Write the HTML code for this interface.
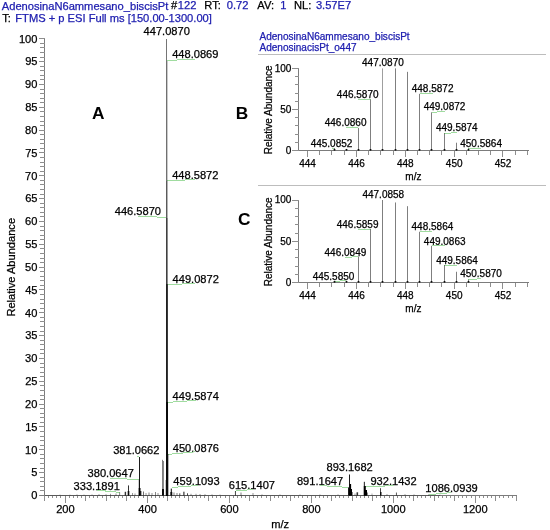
<!DOCTYPE html>
<html><head><meta charset="utf-8"><style>
html,body{margin:0;padding:0;background:#fff;}
svg{display:block;font-family:"Liberation Sans",sans-serif;will-change:transform;}
</style></head><body>
<svg width="550" height="530" viewBox="0 0 550 530" shape-rendering="crispEdges">
<rect width="550" height="530" fill="#fff"/>
<text x="1.75" y="9.50" font-size="11.15px" font-weight="normal" fill="#2020b0" stroke="#2020b0" stroke-width="0.25">AdenosinaN6ammesano_biscisPt</text>
<text x="170.95" y="9.30" font-size="11.15px" font-weight="normal" fill="#000" stroke="#000" stroke-width="0.25">#</text>
<text x="177.84" y="9.40" font-size="11.15px" font-weight="normal" fill="#2020b0" stroke="#2020b0" stroke-width="0.25">122</text>
<text x="204.29" y="9.30" font-size="11.15px" font-weight="normal" fill="#000" stroke="#000" stroke-width="0.25">RT:</text>
<text x="226.74" y="9.40" font-size="11.15px" font-weight="normal" fill="#2020b0" stroke="#2020b0" stroke-width="0.25">0.72</text>
<text x="257.35" y="9.30" font-size="11.15px" font-weight="normal" fill="#000" stroke="#000" stroke-width="0.25">AV:</text>
<text x="280.14" y="9.30" font-size="11.15px" font-weight="normal" fill="#2020b0" stroke="#2020b0" stroke-width="0.25">1</text>
<text x="294.09" y="9.30" font-size="11.15px" font-weight="normal" fill="#000" stroke="#000" stroke-width="0.25">NL:</text>
<text x="315.89" y="9.40" font-size="11.15px" font-weight="normal" fill="#2020b0" stroke="#2020b0" stroke-width="0.25">3.57E7</text>
<text x="2.15" y="21.70" font-size="11.15px" font-weight="normal" fill="#000" stroke="#000" stroke-width="0.25">T:</text>
<text x="15.29" y="21.90" font-size="11.15px" font-weight="normal" fill="#2020b0" stroke="#2020b0" stroke-width="0.25">FTMS + p ESI Full ms [150.00-1300.00]</text>
<line x1="44.50" y1="38.80" x2="44.50" y2="496.00" stroke="#7c7c7c" stroke-width="1" />
<line x1="38.50" y1="495.50" x2="44.50" y2="495.50" stroke="#8e8e8e" stroke-width="1" />
<text x="31.25" y="499.30" font-size="11.1px" font-weight="normal" fill="#000" stroke="#000" stroke-width="0.25">0</text>
<line x1="40.00" y1="490.50" x2="44.50" y2="490.50" stroke="#8e8e8e" stroke-width="1" />
<line x1="40.00" y1="486.50" x2="44.50" y2="486.50" stroke="#8e8e8e" stroke-width="1" />
<line x1="40.00" y1="481.50" x2="44.50" y2="481.50" stroke="#8e8e8e" stroke-width="1" />
<line x1="40.00" y1="477.50" x2="44.50" y2="477.50" stroke="#8e8e8e" stroke-width="1" />
<line x1="38.50" y1="472.50" x2="44.50" y2="472.50" stroke="#8e8e8e" stroke-width="1" />
<text x="31.30" y="476.46" font-size="11.1px" font-weight="normal" fill="#000" stroke="#000" stroke-width="0.25">5</text>
<line x1="40.00" y1="468.50" x2="44.50" y2="468.50" stroke="#8e8e8e" stroke-width="1" />
<line x1="40.00" y1="463.50" x2="44.50" y2="463.50" stroke="#8e8e8e" stroke-width="1" />
<line x1="40.00" y1="458.50" x2="44.50" y2="458.50" stroke="#8e8e8e" stroke-width="1" />
<line x1="40.00" y1="454.50" x2="44.50" y2="454.50" stroke="#8e8e8e" stroke-width="1" />
<line x1="38.50" y1="449.50" x2="44.50" y2="449.50" stroke="#8e8e8e" stroke-width="1" />
<text x="25.09" y="453.63" font-size="11.1px" font-weight="normal" fill="#000" stroke="#000" stroke-width="0.25">10</text>
<line x1="40.00" y1="445.50" x2="44.50" y2="445.50" stroke="#8e8e8e" stroke-width="1" />
<line x1="40.00" y1="440.50" x2="44.50" y2="440.50" stroke="#8e8e8e" stroke-width="1" />
<line x1="40.00" y1="436.50" x2="44.50" y2="436.50" stroke="#8e8e8e" stroke-width="1" />
<line x1="40.00" y1="431.50" x2="44.50" y2="431.50" stroke="#8e8e8e" stroke-width="1" />
<line x1="38.50" y1="426.50" x2="44.50" y2="426.50" stroke="#8e8e8e" stroke-width="1" />
<text x="25.14" y="430.79" font-size="11.1px" font-weight="normal" fill="#000" stroke="#000" stroke-width="0.25">15</text>
<line x1="40.00" y1="422.50" x2="44.50" y2="422.50" stroke="#8e8e8e" stroke-width="1" />
<line x1="40.00" y1="417.50" x2="44.50" y2="417.50" stroke="#8e8e8e" stroke-width="1" />
<line x1="40.00" y1="413.50" x2="44.50" y2="413.50" stroke="#8e8e8e" stroke-width="1" />
<line x1="40.00" y1="408.50" x2="44.50" y2="408.50" stroke="#8e8e8e" stroke-width="1" />
<line x1="38.50" y1="404.50" x2="44.50" y2="404.50" stroke="#8e8e8e" stroke-width="1" />
<text x="25.09" y="407.96" font-size="11.1px" font-weight="normal" fill="#000" stroke="#000" stroke-width="0.25">20</text>
<line x1="40.00" y1="399.50" x2="44.50" y2="399.50" stroke="#8e8e8e" stroke-width="1" />
<line x1="40.00" y1="395.50" x2="44.50" y2="395.50" stroke="#8e8e8e" stroke-width="1" />
<line x1="40.00" y1="390.50" x2="44.50" y2="390.50" stroke="#8e8e8e" stroke-width="1" />
<line x1="40.00" y1="385.50" x2="44.50" y2="385.50" stroke="#8e8e8e" stroke-width="1" />
<line x1="38.50" y1="381.50" x2="44.50" y2="381.50" stroke="#8e8e8e" stroke-width="1" />
<text x="25.14" y="385.12" font-size="11.1px" font-weight="normal" fill="#000" stroke="#000" stroke-width="0.25">25</text>
<line x1="40.00" y1="376.50" x2="44.50" y2="376.50" stroke="#8e8e8e" stroke-width="1" />
<line x1="40.00" y1="372.50" x2="44.50" y2="372.50" stroke="#8e8e8e" stroke-width="1" />
<line x1="40.00" y1="367.50" x2="44.50" y2="367.50" stroke="#8e8e8e" stroke-width="1" />
<line x1="40.00" y1="363.50" x2="44.50" y2="363.50" stroke="#8e8e8e" stroke-width="1" />
<line x1="38.50" y1="358.50" x2="44.50" y2="358.50" stroke="#8e8e8e" stroke-width="1" />
<text x="25.09" y="362.29" font-size="11.1px" font-weight="normal" fill="#000" stroke="#000" stroke-width="0.25">30</text>
<line x1="40.00" y1="353.50" x2="44.50" y2="353.50" stroke="#8e8e8e" stroke-width="1" />
<line x1="40.00" y1="349.50" x2="44.50" y2="349.50" stroke="#8e8e8e" stroke-width="1" />
<line x1="40.00" y1="344.50" x2="44.50" y2="344.50" stroke="#8e8e8e" stroke-width="1" />
<line x1="40.00" y1="340.50" x2="44.50" y2="340.50" stroke="#8e8e8e" stroke-width="1" />
<line x1="38.50" y1="335.50" x2="44.50" y2="335.50" stroke="#8e8e8e" stroke-width="1" />
<text x="25.14" y="339.45" font-size="11.1px" font-weight="normal" fill="#000" stroke="#000" stroke-width="0.25">35</text>
<line x1="40.00" y1="331.50" x2="44.50" y2="331.50" stroke="#8e8e8e" stroke-width="1" />
<line x1="40.00" y1="326.50" x2="44.50" y2="326.50" stroke="#8e8e8e" stroke-width="1" />
<line x1="40.00" y1="321.50" x2="44.50" y2="321.50" stroke="#8e8e8e" stroke-width="1" />
<line x1="40.00" y1="317.50" x2="44.50" y2="317.50" stroke="#8e8e8e" stroke-width="1" />
<line x1="38.50" y1="312.50" x2="44.50" y2="312.50" stroke="#8e8e8e" stroke-width="1" />
<text x="25.09" y="316.62" font-size="11.1px" font-weight="normal" fill="#000" stroke="#000" stroke-width="0.25">40</text>
<line x1="40.00" y1="308.50" x2="44.50" y2="308.50" stroke="#8e8e8e" stroke-width="1" />
<line x1="40.00" y1="303.50" x2="44.50" y2="303.50" stroke="#8e8e8e" stroke-width="1" />
<line x1="40.00" y1="299.50" x2="44.50" y2="299.50" stroke="#8e8e8e" stroke-width="1" />
<line x1="40.00" y1="294.50" x2="44.50" y2="294.50" stroke="#8e8e8e" stroke-width="1" />
<line x1="38.50" y1="289.50" x2="44.50" y2="289.50" stroke="#8e8e8e" stroke-width="1" />
<text x="25.14" y="293.78" font-size="11.1px" font-weight="normal" fill="#000" stroke="#000" stroke-width="0.25">45</text>
<line x1="40.00" y1="285.50" x2="44.50" y2="285.50" stroke="#8e8e8e" stroke-width="1" />
<line x1="40.00" y1="280.50" x2="44.50" y2="280.50" stroke="#8e8e8e" stroke-width="1" />
<line x1="40.00" y1="276.50" x2="44.50" y2="276.50" stroke="#8e8e8e" stroke-width="1" />
<line x1="40.00" y1="271.50" x2="44.50" y2="271.50" stroke="#8e8e8e" stroke-width="1" />
<line x1="38.50" y1="267.50" x2="44.50" y2="267.50" stroke="#8e8e8e" stroke-width="1" />
<text x="25.09" y="270.95" font-size="11.1px" font-weight="normal" fill="#000" stroke="#000" stroke-width="0.25">50</text>
<line x1="40.00" y1="262.50" x2="44.50" y2="262.50" stroke="#8e8e8e" stroke-width="1" />
<line x1="40.00" y1="258.50" x2="44.50" y2="258.50" stroke="#8e8e8e" stroke-width="1" />
<line x1="40.00" y1="253.50" x2="44.50" y2="253.50" stroke="#8e8e8e" stroke-width="1" />
<line x1="40.00" y1="248.50" x2="44.50" y2="248.50" stroke="#8e8e8e" stroke-width="1" />
<line x1="38.50" y1="244.50" x2="44.50" y2="244.50" stroke="#8e8e8e" stroke-width="1" />
<text x="25.14" y="248.11" font-size="11.1px" font-weight="normal" fill="#000" stroke="#000" stroke-width="0.25">55</text>
<line x1="40.00" y1="239.50" x2="44.50" y2="239.50" stroke="#8e8e8e" stroke-width="1" />
<line x1="40.00" y1="235.50" x2="44.50" y2="235.50" stroke="#8e8e8e" stroke-width="1" />
<line x1="40.00" y1="230.50" x2="44.50" y2="230.50" stroke="#8e8e8e" stroke-width="1" />
<line x1="40.00" y1="226.50" x2="44.50" y2="226.50" stroke="#8e8e8e" stroke-width="1" />
<line x1="38.50" y1="221.50" x2="44.50" y2="221.50" stroke="#8e8e8e" stroke-width="1" />
<text x="25.09" y="225.28" font-size="11.1px" font-weight="normal" fill="#000" stroke="#000" stroke-width="0.25">60</text>
<line x1="40.00" y1="216.50" x2="44.50" y2="216.50" stroke="#8e8e8e" stroke-width="1" />
<line x1="40.00" y1="212.50" x2="44.50" y2="212.50" stroke="#8e8e8e" stroke-width="1" />
<line x1="40.00" y1="207.50" x2="44.50" y2="207.50" stroke="#8e8e8e" stroke-width="1" />
<line x1="40.00" y1="203.50" x2="44.50" y2="203.50" stroke="#8e8e8e" stroke-width="1" />
<line x1="38.50" y1="198.50" x2="44.50" y2="198.50" stroke="#8e8e8e" stroke-width="1" />
<text x="25.14" y="202.44" font-size="11.1px" font-weight="normal" fill="#000" stroke="#000" stroke-width="0.25">65</text>
<line x1="40.00" y1="194.50" x2="44.50" y2="194.50" stroke="#8e8e8e" stroke-width="1" />
<line x1="40.00" y1="189.50" x2="44.50" y2="189.50" stroke="#8e8e8e" stroke-width="1" />
<line x1="40.00" y1="184.50" x2="44.50" y2="184.50" stroke="#8e8e8e" stroke-width="1" />
<line x1="40.00" y1="180.50" x2="44.50" y2="180.50" stroke="#8e8e8e" stroke-width="1" />
<line x1="38.50" y1="175.50" x2="44.50" y2="175.50" stroke="#8e8e8e" stroke-width="1" />
<text x="25.09" y="179.61" font-size="11.1px" font-weight="normal" fill="#000" stroke="#000" stroke-width="0.25">70</text>
<line x1="40.00" y1="171.50" x2="44.50" y2="171.50" stroke="#8e8e8e" stroke-width="1" />
<line x1="40.00" y1="166.50" x2="44.50" y2="166.50" stroke="#8e8e8e" stroke-width="1" />
<line x1="40.00" y1="162.50" x2="44.50" y2="162.50" stroke="#8e8e8e" stroke-width="1" />
<line x1="40.00" y1="157.50" x2="44.50" y2="157.50" stroke="#8e8e8e" stroke-width="1" />
<line x1="38.50" y1="152.50" x2="44.50" y2="152.50" stroke="#8e8e8e" stroke-width="1" />
<text x="25.14" y="156.77" font-size="11.1px" font-weight="normal" fill="#000" stroke="#000" stroke-width="0.25">75</text>
<line x1="40.00" y1="148.50" x2="44.50" y2="148.50" stroke="#8e8e8e" stroke-width="1" />
<line x1="40.00" y1="143.50" x2="44.50" y2="143.50" stroke="#8e8e8e" stroke-width="1" />
<line x1="40.00" y1="139.50" x2="44.50" y2="139.50" stroke="#8e8e8e" stroke-width="1" />
<line x1="40.00" y1="134.50" x2="44.50" y2="134.50" stroke="#8e8e8e" stroke-width="1" />
<line x1="38.50" y1="130.50" x2="44.50" y2="130.50" stroke="#8e8e8e" stroke-width="1" />
<text x="25.09" y="133.94" font-size="11.1px" font-weight="normal" fill="#000" stroke="#000" stroke-width="0.25">80</text>
<line x1="40.00" y1="125.50" x2="44.50" y2="125.50" stroke="#8e8e8e" stroke-width="1" />
<line x1="40.00" y1="121.50" x2="44.50" y2="121.50" stroke="#8e8e8e" stroke-width="1" />
<line x1="40.00" y1="116.50" x2="44.50" y2="116.50" stroke="#8e8e8e" stroke-width="1" />
<line x1="40.00" y1="111.50" x2="44.50" y2="111.50" stroke="#8e8e8e" stroke-width="1" />
<line x1="38.50" y1="107.50" x2="44.50" y2="107.50" stroke="#8e8e8e" stroke-width="1" />
<text x="25.14" y="111.10" font-size="11.1px" font-weight="normal" fill="#000" stroke="#000" stroke-width="0.25">85</text>
<line x1="40.00" y1="102.50" x2="44.50" y2="102.50" stroke="#8e8e8e" stroke-width="1" />
<line x1="40.00" y1="98.50" x2="44.50" y2="98.50" stroke="#8e8e8e" stroke-width="1" />
<line x1="40.00" y1="93.50" x2="44.50" y2="93.50" stroke="#8e8e8e" stroke-width="1" />
<line x1="40.00" y1="89.50" x2="44.50" y2="89.50" stroke="#8e8e8e" stroke-width="1" />
<line x1="38.50" y1="84.50" x2="44.50" y2="84.50" stroke="#8e8e8e" stroke-width="1" />
<text x="25.09" y="88.27" font-size="11.1px" font-weight="normal" fill="#000" stroke="#000" stroke-width="0.25">90</text>
<line x1="40.00" y1="79.50" x2="44.50" y2="79.50" stroke="#8e8e8e" stroke-width="1" />
<line x1="40.00" y1="75.50" x2="44.50" y2="75.50" stroke="#8e8e8e" stroke-width="1" />
<line x1="40.00" y1="70.50" x2="44.50" y2="70.50" stroke="#8e8e8e" stroke-width="1" />
<line x1="40.00" y1="66.50" x2="44.50" y2="66.50" stroke="#8e8e8e" stroke-width="1" />
<line x1="38.50" y1="61.50" x2="44.50" y2="61.50" stroke="#8e8e8e" stroke-width="1" />
<text x="25.14" y="65.43" font-size="11.1px" font-weight="normal" fill="#000" stroke="#000" stroke-width="0.25">95</text>
<line x1="40.00" y1="57.50" x2="44.50" y2="57.50" stroke="#8e8e8e" stroke-width="1" />
<line x1="40.00" y1="52.50" x2="44.50" y2="52.50" stroke="#8e8e8e" stroke-width="1" />
<line x1="40.00" y1="47.50" x2="44.50" y2="47.50" stroke="#8e8e8e" stroke-width="1" />
<line x1="40.00" y1="43.50" x2="44.50" y2="43.50" stroke="#8e8e8e" stroke-width="1" />
<line x1="38.50" y1="38.50" x2="44.50" y2="38.50" stroke="#8e8e8e" stroke-width="1" />
<text x="18.89" y="42.60" font-size="11.1px" font-weight="normal" fill="#000" stroke="#000" stroke-width="0.25">100</text>
<line x1="40.00" y1="495.50" x2="517.00" y2="495.50" stroke="#7c7c7c" stroke-width="1" />
<line x1="45.00" y1="495.50" x2="440.00" y2="495.50" stroke="#5a5a5a" stroke-width="1" />
<line x1="44.50" y1="496.00" x2="44.50" y2="500.50" stroke="#8e8e8e" stroke-width="1" />
<line x1="48.50" y1="496.00" x2="48.50" y2="498.00" stroke="#8e8e8e" stroke-width="1" />
<line x1="52.50" y1="496.00" x2="52.50" y2="498.00" stroke="#8e8e8e" stroke-width="1" />
<line x1="56.50" y1="496.00" x2="56.50" y2="498.00" stroke="#8e8e8e" stroke-width="1" />
<line x1="60.50" y1="496.00" x2="60.50" y2="498.00" stroke="#8e8e8e" stroke-width="1" />
<line x1="65.50" y1="496.00" x2="65.50" y2="502.50" stroke="#8e8e8e" stroke-width="1" />
<text x="56.17" y="512.80" font-size="11.1px" font-weight="normal" fill="#000" stroke="#000" stroke-width="0.25">200</text>
<line x1="69.50" y1="496.00" x2="69.50" y2="498.00" stroke="#8e8e8e" stroke-width="1" />
<line x1="73.50" y1="496.00" x2="73.50" y2="498.00" stroke="#8e8e8e" stroke-width="1" />
<line x1="77.50" y1="496.00" x2="77.50" y2="498.00" stroke="#8e8e8e" stroke-width="1" />
<line x1="81.50" y1="496.00" x2="81.50" y2="498.00" stroke="#8e8e8e" stroke-width="1" />
<line x1="85.50" y1="496.00" x2="85.50" y2="500.50" stroke="#8e8e8e" stroke-width="1" />
<line x1="89.50" y1="496.00" x2="89.50" y2="498.00" stroke="#8e8e8e" stroke-width="1" />
<line x1="93.50" y1="496.00" x2="93.50" y2="498.00" stroke="#8e8e8e" stroke-width="1" />
<line x1="97.50" y1="496.00" x2="97.50" y2="498.00" stroke="#8e8e8e" stroke-width="1" />
<line x1="102.50" y1="496.00" x2="102.50" y2="498.00" stroke="#8e8e8e" stroke-width="1" />
<line x1="106.50" y1="496.00" x2="106.50" y2="500.50" stroke="#8e8e8e" stroke-width="1" />
<line x1="110.50" y1="496.00" x2="110.50" y2="498.00" stroke="#8e8e8e" stroke-width="1" />
<line x1="114.50" y1="496.00" x2="114.50" y2="498.00" stroke="#8e8e8e" stroke-width="1" />
<line x1="118.50" y1="496.00" x2="118.50" y2="498.00" stroke="#8e8e8e" stroke-width="1" />
<line x1="122.50" y1="496.00" x2="122.50" y2="498.00" stroke="#8e8e8e" stroke-width="1" />
<line x1="126.50" y1="496.00" x2="126.50" y2="500.50" stroke="#8e8e8e" stroke-width="1" />
<line x1="130.50" y1="496.00" x2="130.50" y2="498.00" stroke="#8e8e8e" stroke-width="1" />
<line x1="134.50" y1="496.00" x2="134.50" y2="498.00" stroke="#8e8e8e" stroke-width="1" />
<line x1="138.50" y1="496.00" x2="138.50" y2="498.00" stroke="#8e8e8e" stroke-width="1" />
<line x1="143.50" y1="496.00" x2="143.50" y2="498.00" stroke="#8e8e8e" stroke-width="1" />
<line x1="147.50" y1="496.00" x2="147.50" y2="502.50" stroke="#8e8e8e" stroke-width="1" />
<text x="138.32" y="512.80" font-size="11.1px" font-weight="normal" fill="#000" stroke="#000" stroke-width="0.25">400</text>
<line x1="151.50" y1="496.00" x2="151.50" y2="498.00" stroke="#8e8e8e" stroke-width="1" />
<line x1="155.50" y1="496.00" x2="155.50" y2="498.00" stroke="#8e8e8e" stroke-width="1" />
<line x1="159.50" y1="496.00" x2="159.50" y2="498.00" stroke="#8e8e8e" stroke-width="1" />
<line x1="163.50" y1="496.00" x2="163.50" y2="498.00" stroke="#8e8e8e" stroke-width="1" />
<line x1="167.50" y1="496.00" x2="167.50" y2="500.50" stroke="#8e8e8e" stroke-width="1" />
<line x1="171.50" y1="496.00" x2="171.50" y2="498.00" stroke="#8e8e8e" stroke-width="1" />
<line x1="175.50" y1="496.00" x2="175.50" y2="498.00" stroke="#8e8e8e" stroke-width="1" />
<line x1="179.50" y1="496.00" x2="179.50" y2="498.00" stroke="#8e8e8e" stroke-width="1" />
<line x1="184.50" y1="496.00" x2="184.50" y2="498.00" stroke="#8e8e8e" stroke-width="1" />
<line x1="188.50" y1="496.00" x2="188.50" y2="500.50" stroke="#8e8e8e" stroke-width="1" />
<line x1="192.50" y1="496.00" x2="192.50" y2="498.00" stroke="#8e8e8e" stroke-width="1" />
<line x1="196.50" y1="496.00" x2="196.50" y2="498.00" stroke="#8e8e8e" stroke-width="1" />
<line x1="200.50" y1="496.00" x2="200.50" y2="498.00" stroke="#8e8e8e" stroke-width="1" />
<line x1="204.50" y1="496.00" x2="204.50" y2="498.00" stroke="#8e8e8e" stroke-width="1" />
<line x1="208.50" y1="496.00" x2="208.50" y2="500.50" stroke="#8e8e8e" stroke-width="1" />
<line x1="212.50" y1="496.00" x2="212.50" y2="498.00" stroke="#8e8e8e" stroke-width="1" />
<line x1="216.50" y1="496.00" x2="216.50" y2="498.00" stroke="#8e8e8e" stroke-width="1" />
<line x1="220.50" y1="496.00" x2="220.50" y2="498.00" stroke="#8e8e8e" stroke-width="1" />
<line x1="225.50" y1="496.00" x2="225.50" y2="498.00" stroke="#8e8e8e" stroke-width="1" />
<line x1="229.50" y1="496.00" x2="229.50" y2="502.50" stroke="#8e8e8e" stroke-width="1" />
<text x="220.17" y="512.80" font-size="11.1px" font-weight="normal" fill="#000" stroke="#000" stroke-width="0.25">600</text>
<line x1="233.50" y1="496.00" x2="233.50" y2="498.00" stroke="#8e8e8e" stroke-width="1" />
<line x1="237.50" y1="496.00" x2="237.50" y2="498.00" stroke="#8e8e8e" stroke-width="1" />
<line x1="241.50" y1="496.00" x2="241.50" y2="498.00" stroke="#8e8e8e" stroke-width="1" />
<line x1="245.50" y1="496.00" x2="245.50" y2="498.00" stroke="#8e8e8e" stroke-width="1" />
<line x1="249.50" y1="496.00" x2="249.50" y2="500.50" stroke="#8e8e8e" stroke-width="1" />
<line x1="253.50" y1="496.00" x2="253.50" y2="498.00" stroke="#8e8e8e" stroke-width="1" />
<line x1="257.50" y1="496.00" x2="257.50" y2="498.00" stroke="#8e8e8e" stroke-width="1" />
<line x1="261.50" y1="496.00" x2="261.50" y2="498.00" stroke="#8e8e8e" stroke-width="1" />
<line x1="266.50" y1="496.00" x2="266.50" y2="498.00" stroke="#8e8e8e" stroke-width="1" />
<line x1="270.50" y1="496.00" x2="270.50" y2="500.50" stroke="#8e8e8e" stroke-width="1" />
<line x1="274.50" y1="496.00" x2="274.50" y2="498.00" stroke="#8e8e8e" stroke-width="1" />
<line x1="278.50" y1="496.00" x2="278.50" y2="498.00" stroke="#8e8e8e" stroke-width="1" />
<line x1="282.50" y1="496.00" x2="282.50" y2="498.00" stroke="#8e8e8e" stroke-width="1" />
<line x1="286.50" y1="496.00" x2="286.50" y2="498.00" stroke="#8e8e8e" stroke-width="1" />
<line x1="290.50" y1="496.00" x2="290.50" y2="500.50" stroke="#8e8e8e" stroke-width="1" />
<line x1="294.50" y1="496.00" x2="294.50" y2="498.00" stroke="#8e8e8e" stroke-width="1" />
<line x1="298.50" y1="496.00" x2="298.50" y2="498.00" stroke="#8e8e8e" stroke-width="1" />
<line x1="302.50" y1="496.00" x2="302.50" y2="498.00" stroke="#8e8e8e" stroke-width="1" />
<line x1="307.50" y1="496.00" x2="307.50" y2="498.00" stroke="#8e8e8e" stroke-width="1" />
<line x1="311.50" y1="496.00" x2="311.50" y2="502.50" stroke="#8e8e8e" stroke-width="1" />
<text x="302.19" y="512.80" font-size="11.1px" font-weight="normal" fill="#000" stroke="#000" stroke-width="0.25">800</text>
<line x1="315.50" y1="496.00" x2="315.50" y2="498.00" stroke="#8e8e8e" stroke-width="1" />
<line x1="319.50" y1="496.00" x2="319.50" y2="498.00" stroke="#8e8e8e" stroke-width="1" />
<line x1="323.50" y1="496.00" x2="323.50" y2="498.00" stroke="#8e8e8e" stroke-width="1" />
<line x1="327.50" y1="496.00" x2="327.50" y2="498.00" stroke="#8e8e8e" stroke-width="1" />
<line x1="331.50" y1="496.00" x2="331.50" y2="500.50" stroke="#8e8e8e" stroke-width="1" />
<line x1="335.50" y1="496.00" x2="335.50" y2="498.00" stroke="#8e8e8e" stroke-width="1" />
<line x1="339.50" y1="496.00" x2="339.50" y2="498.00" stroke="#8e8e8e" stroke-width="1" />
<line x1="343.50" y1="496.00" x2="343.50" y2="498.00" stroke="#8e8e8e" stroke-width="1" />
<line x1="348.50" y1="496.00" x2="348.50" y2="498.00" stroke="#8e8e8e" stroke-width="1" />
<line x1="352.50" y1="496.00" x2="352.50" y2="500.50" stroke="#8e8e8e" stroke-width="1" />
<line x1="356.50" y1="496.00" x2="356.50" y2="498.00" stroke="#8e8e8e" stroke-width="1" />
<line x1="360.50" y1="496.00" x2="360.50" y2="498.00" stroke="#8e8e8e" stroke-width="1" />
<line x1="364.50" y1="496.00" x2="364.50" y2="498.00" stroke="#8e8e8e" stroke-width="1" />
<line x1="368.50" y1="496.00" x2="368.50" y2="498.00" stroke="#8e8e8e" stroke-width="1" />
<line x1="372.50" y1="496.00" x2="372.50" y2="500.50" stroke="#8e8e8e" stroke-width="1" />
<line x1="376.50" y1="496.00" x2="376.50" y2="498.00" stroke="#8e8e8e" stroke-width="1" />
<line x1="380.50" y1="496.00" x2="380.50" y2="498.00" stroke="#8e8e8e" stroke-width="1" />
<line x1="384.50" y1="496.00" x2="384.50" y2="498.00" stroke="#8e8e8e" stroke-width="1" />
<line x1="389.50" y1="496.00" x2="389.50" y2="498.00" stroke="#8e8e8e" stroke-width="1" />
<line x1="393.50" y1="496.00" x2="393.50" y2="502.50" stroke="#8e8e8e" stroke-width="1" />
<text x="380.94" y="512.80" font-size="11.1px" font-weight="normal" fill="#000" stroke="#000" stroke-width="0.25">1000</text>
<line x1="397.50" y1="496.00" x2="397.50" y2="498.00" stroke="#8e8e8e" stroke-width="1" />
<line x1="401.50" y1="496.00" x2="401.50" y2="498.00" stroke="#8e8e8e" stroke-width="1" />
<line x1="405.50" y1="496.00" x2="405.50" y2="498.00" stroke="#8e8e8e" stroke-width="1" />
<line x1="409.50" y1="496.00" x2="409.50" y2="498.00" stroke="#8e8e8e" stroke-width="1" />
<line x1="413.50" y1="496.00" x2="413.50" y2="500.50" stroke="#8e8e8e" stroke-width="1" />
<line x1="417.50" y1="496.00" x2="417.50" y2="498.00" stroke="#8e8e8e" stroke-width="1" />
<line x1="421.50" y1="496.00" x2="421.50" y2="498.00" stroke="#8e8e8e" stroke-width="1" />
<line x1="425.50" y1="496.00" x2="425.50" y2="498.00" stroke="#8e8e8e" stroke-width="1" />
<line x1="430.50" y1="496.00" x2="430.50" y2="498.00" stroke="#8e8e8e" stroke-width="1" />
<line x1="434.50" y1="496.00" x2="434.50" y2="500.50" stroke="#8e8e8e" stroke-width="1" />
<line x1="438.50" y1="496.00" x2="438.50" y2="498.00" stroke="#8e8e8e" stroke-width="1" />
<line x1="442.50" y1="496.00" x2="442.50" y2="498.00" stroke="#8e8e8e" stroke-width="1" />
<line x1="446.50" y1="496.00" x2="446.50" y2="498.00" stroke="#8e8e8e" stroke-width="1" />
<line x1="450.50" y1="496.00" x2="450.50" y2="498.00" stroke="#8e8e8e" stroke-width="1" />
<line x1="454.50" y1="496.00" x2="454.50" y2="500.50" stroke="#8e8e8e" stroke-width="1" />
<line x1="458.50" y1="496.00" x2="458.50" y2="498.00" stroke="#8e8e8e" stroke-width="1" />
<line x1="462.50" y1="496.00" x2="462.50" y2="498.00" stroke="#8e8e8e" stroke-width="1" />
<line x1="466.50" y1="496.00" x2="466.50" y2="498.00" stroke="#8e8e8e" stroke-width="1" />
<line x1="471.50" y1="496.00" x2="471.50" y2="498.00" stroke="#8e8e8e" stroke-width="1" />
<line x1="475.50" y1="496.00" x2="475.50" y2="502.50" stroke="#8e8e8e" stroke-width="1" />
<text x="462.94" y="512.80" font-size="11.1px" font-weight="normal" fill="#000" stroke="#000" stroke-width="0.25">1200</text>
<line x1="479.50" y1="496.00" x2="479.50" y2="498.00" stroke="#8e8e8e" stroke-width="1" />
<line x1="483.50" y1="496.00" x2="483.50" y2="498.00" stroke="#8e8e8e" stroke-width="1" />
<line x1="487.50" y1="496.00" x2="487.50" y2="498.00" stroke="#8e8e8e" stroke-width="1" />
<line x1="491.50" y1="496.00" x2="491.50" y2="498.00" stroke="#8e8e8e" stroke-width="1" />
<line x1="495.50" y1="496.00" x2="495.50" y2="500.50" stroke="#8e8e8e" stroke-width="1" />
<line x1="499.50" y1="496.00" x2="499.50" y2="498.00" stroke="#8e8e8e" stroke-width="1" />
<line x1="503.50" y1="496.00" x2="503.50" y2="498.00" stroke="#8e8e8e" stroke-width="1" />
<line x1="508.50" y1="496.00" x2="508.50" y2="498.00" stroke="#8e8e8e" stroke-width="1" />
<line x1="512.50" y1="496.00" x2="512.50" y2="498.00" stroke="#8e8e8e" stroke-width="1" />
<line x1="516.50" y1="496.00" x2="516.50" y2="500.50" stroke="#8e8e8e" stroke-width="1" />
<text transform="translate(15,316.6) rotate(-90)" x="0" y="0" font-size="11.1px" stroke="#000" stroke-width="0.25">Relative Abundance</text>
<text x="271.24" y="527.60" font-size="11.1px" font-weight="normal" fill="#000" stroke="#000" stroke-width="0.25">m/z</text>
<text x="92.04" y="118.80" font-size="17.3px" font-weight="bold" fill="#000">A</text>
<text x="143.55" y="35.40" font-size="11.1px" font-weight="normal" fill="#000" stroke="#000" stroke-width="0.25">447.0870</text>
<text x="172.15" y="58.10" font-size="11.1px" font-weight="normal" fill="#000" stroke="#000" stroke-width="0.25">448.0869</text>
<line x1="166.80" y1="60.60" x2="195.20" y2="59.00" stroke="#a0dca0" stroke-width="1"/>
<text x="172.15" y="179.10" font-size="11.1px" font-weight="normal" fill="#000" stroke="#000" stroke-width="0.25">448.5872</text>
<line x1="167.50" y1="181.00" x2="195.50" y2="179.40" stroke="#a0dca0" stroke-width="1"/>
<text x="114.75" y="215.00" font-size="11.1px" font-weight="normal" fill="#000" stroke="#000" stroke-width="0.25">446.5870</text>
<line x1="138.10" y1="216.00" x2="166.50" y2="217.50" stroke="#a0dca0" stroke-width="1"/>
<text x="172.55" y="282.70" font-size="11.1px" font-weight="normal" fill="#000" stroke="#000" stroke-width="0.25">449.0872</text>
<line x1="168.00" y1="285.00" x2="195.50" y2="283.00" stroke="#a0dca0" stroke-width="1"/>
<text x="172.55" y="399.90" font-size="11.1px" font-weight="normal" fill="#000" stroke="#000" stroke-width="0.25">449.5874</text>
<line x1="167.70" y1="402.40" x2="195.50" y2="400.40" stroke="#a0dca0" stroke-width="1"/>
<text x="172.75" y="451.70" font-size="11.1px" font-weight="normal" fill="#000" stroke="#000" stroke-width="0.25">450.0876</text>
<line x1="168.30" y1="454.40" x2="195.50" y2="451.80" stroke="#a0dca0" stroke-width="1"/>
<text x="113.20" y="454.30" font-size="11.1px" font-weight="normal" fill="#000" stroke="#000" stroke-width="0.25">381.0662</text>
<line x1="136.50" y1="455.60" x2="139.20" y2="457.00" stroke="#a0dca0" stroke-width="1"/>
<text x="87.60" y="477.30" font-size="11.1px" font-weight="normal" fill="#000" stroke="#000" stroke-width="0.25">380.0647</text>
<line x1="110.50" y1="478.20" x2="139.00" y2="479.60" stroke="#a0dca0" stroke-width="1"/>
<text x="73.60" y="489.50" font-size="11.1px" font-weight="normal" fill="#000" stroke="#000" stroke-width="0.25">333.1891</text>
<line x1="97.00" y1="490.20" x2="120.00" y2="492.40" stroke="#a0dca0" stroke-width="1"/>
<text x="173.35" y="485.30" font-size="11.1px" font-weight="normal" fill="#000" stroke="#000" stroke-width="0.25">459.1093</text>
<line x1="171.80" y1="487.50" x2="197.80" y2="485.50" stroke="#a0dca0" stroke-width="1"/>
<text x="228.75" y="488.90" font-size="11.1px" font-weight="normal" fill="#000" stroke="#000" stroke-width="0.25">615.1407</text>
<line x1="235.40" y1="491.10" x2="252.90" y2="489.50" stroke="#a0dca0" stroke-width="1"/>
<text x="326.50" y="471.10" font-size="11.1px" font-weight="normal" fill="#000" stroke="#000" stroke-width="0.25">893.1682</text>
<text x="296.90" y="484.80" font-size="11.1px" font-weight="normal" fill="#000" stroke="#000" stroke-width="0.25">891.1647</text>
<line x1="320.20" y1="485.60" x2="348.50" y2="487.40" stroke="#a0dca0" stroke-width="1"/>
<text x="370.40" y="484.80" font-size="11.1px" font-weight="normal" fill="#000" stroke="#000" stroke-width="0.25">932.1432</text>
<line x1="364.80" y1="487.00" x2="393.80" y2="485.60" stroke="#a0dca0" stroke-width="1"/>
<text x="425.34" y="491.90" font-size="11.1px" font-weight="normal" fill="#000" stroke="#000" stroke-width="0.25">1086.0939</text>
<line x1="429.00" y1="494.60" x2="451.00" y2="492.70" stroke="#a0dca0" stroke-width="1"/>
<line x1="257.50" y1="54.50" x2="546.00" y2="54.50" stroke="#bdbdbd" stroke-width="1" />
<text x="259.45" y="39.80" font-size="10.05px" font-weight="normal" fill="#2020b0" stroke="#2020b0" stroke-width="0.25">AdenosinaN6ammesano_biscisPt</text>
<text x="259.45" y="51.10" font-size="10.05px" font-weight="normal" fill="#2020b0" stroke="#2020b0" stroke-width="0.25">AdenosinacisPt_o447</text>
<line x1="298.50" y1="68.40" x2="298.50" y2="150.50" stroke="#7c7c7c" stroke-width="1" />
<line x1="291.50" y1="150.50" x2="298.50" y2="150.50" stroke="#8e8e8e" stroke-width="1" />
<text x="285.75" y="153.80" font-size="10.0px" font-weight="normal" fill="#000" stroke="#000" stroke-width="0.25">0</text>
<line x1="294.50" y1="142.50" x2="298.50" y2="142.50" stroke="#8e8e8e" stroke-width="1" />
<line x1="294.50" y1="134.50" x2="298.50" y2="134.50" stroke="#8e8e8e" stroke-width="1" />
<line x1="294.50" y1="125.50" x2="298.50" y2="125.50" stroke="#8e8e8e" stroke-width="1" />
<line x1="294.50" y1="117.50" x2="298.50" y2="117.50" stroke="#8e8e8e" stroke-width="1" />
<line x1="291.50" y1="109.50" x2="298.50" y2="109.50" stroke="#8e8e8e" stroke-width="1" />
<text x="280.20" y="112.75" font-size="10.0px" font-weight="normal" fill="#000" stroke="#000" stroke-width="0.25">50</text>
<line x1="294.50" y1="101.50" x2="298.50" y2="101.50" stroke="#8e8e8e" stroke-width="1" />
<line x1="294.50" y1="93.50" x2="298.50" y2="93.50" stroke="#8e8e8e" stroke-width="1" />
<line x1="294.50" y1="84.50" x2="298.50" y2="84.50" stroke="#8e8e8e" stroke-width="1" />
<line x1="294.50" y1="76.50" x2="298.50" y2="76.50" stroke="#8e8e8e" stroke-width="1" />
<line x1="291.50" y1="68.50" x2="298.50" y2="68.50" stroke="#8e8e8e" stroke-width="1" />
<text x="274.65" y="71.70" font-size="10.0px" font-weight="normal" fill="#000" stroke="#000" stroke-width="0.25">100</text>
<line x1="298.50" y1="150.50" x2="528.50" y2="150.50" stroke="#7c7c7c" stroke-width="1" />
<line x1="307.50" y1="151.00" x2="307.50" y2="157.00" stroke="#8e8e8e" stroke-width="1" />
<text x="299.20" y="166.90" font-size="10.0px" font-weight="normal" fill="#000" stroke="#000" stroke-width="0.25">444</text>
<line x1="319.50" y1="151.00" x2="319.50" y2="155.00" stroke="#8e8e8e" stroke-width="1" />
<line x1="331.50" y1="151.00" x2="331.50" y2="155.00" stroke="#8e8e8e" stroke-width="1" />
<line x1="344.50" y1="151.00" x2="344.50" y2="155.00" stroke="#8e8e8e" stroke-width="1" />
<line x1="356.50" y1="151.00" x2="356.50" y2="157.00" stroke="#8e8e8e" stroke-width="1" />
<text x="348.13" y="166.80" font-size="10.0px" font-weight="normal" fill="#000" stroke="#000" stroke-width="0.25">446</text>
<line x1="368.50" y1="151.00" x2="368.50" y2="155.00" stroke="#8e8e8e" stroke-width="1" />
<line x1="380.50" y1="151.00" x2="380.50" y2="155.00" stroke="#8e8e8e" stroke-width="1" />
<line x1="393.50" y1="151.00" x2="393.50" y2="155.00" stroke="#8e8e8e" stroke-width="1" />
<line x1="405.50" y1="151.00" x2="405.50" y2="157.00" stroke="#8e8e8e" stroke-width="1" />
<text x="396.97" y="166.80" font-size="10.0px" font-weight="normal" fill="#000" stroke="#000" stroke-width="0.25">448</text>
<line x1="417.50" y1="151.00" x2="417.50" y2="155.00" stroke="#8e8e8e" stroke-width="1" />
<line x1="429.50" y1="151.00" x2="429.50" y2="155.00" stroke="#8e8e8e" stroke-width="1" />
<line x1="441.50" y1="151.00" x2="441.50" y2="155.00" stroke="#8e8e8e" stroke-width="1" />
<line x1="454.50" y1="151.00" x2="454.50" y2="157.00" stroke="#8e8e8e" stroke-width="1" />
<text x="445.83" y="166.80" font-size="10.0px" font-weight="normal" fill="#000" stroke="#000" stroke-width="0.25">450</text>
<line x1="466.50" y1="151.00" x2="466.50" y2="155.00" stroke="#8e8e8e" stroke-width="1" />
<line x1="478.50" y1="151.00" x2="478.50" y2="155.00" stroke="#8e8e8e" stroke-width="1" />
<line x1="490.50" y1="151.00" x2="490.50" y2="155.00" stroke="#8e8e8e" stroke-width="1" />
<line x1="502.50" y1="151.00" x2="502.50" y2="157.00" stroke="#8e8e8e" stroke-width="1" />
<text x="494.74" y="166.80" font-size="10.0px" font-weight="normal" fill="#000" stroke="#000" stroke-width="0.25">452</text>
<line x1="515.50" y1="151.00" x2="515.50" y2="155.00" stroke="#8e8e8e" stroke-width="1" />
<line x1="527.50" y1="151.00" x2="527.50" y2="155.00" stroke="#8e8e8e" stroke-width="1" />
<text x="405.35" y="179.60" font-size="10.0px" font-weight="normal" fill="#000" stroke="#000" stroke-width="0.25">m/z</text>
<text transform="translate(271.6,154.3) rotate(-90)" x="0" y="0" font-size="10.0px" stroke="#000" stroke-width="0.25">Relative Abundance</text>
<text x="310.65" y="146.90" font-size="10.0px" font-weight="normal" fill="#000" stroke="#000" stroke-width="0.25">445.0852</text>
<line x1="331.60" y1="148.40" x2="334.01" y2="148.04" stroke="#a0dca0" stroke-width="1"/>
<text x="324.75" y="125.70" font-size="10.0px" font-weight="normal" fill="#000" stroke="#000" stroke-width="0.25">446.0860</text>
<line x1="345.70" y1="127.20" x2="358.46" y2="127.92" stroke="#a0dca0" stroke-width="1"/>
<text x="336.85" y="98.10" font-size="10.0px" font-weight="normal" fill="#000" stroke="#000" stroke-width="0.25">446.5870</text>
<line x1="357.80" y1="99.60" x2="370.70" y2="99.60" stroke="#a0dca0" stroke-width="1"/>
<text x="362.05" y="65.50" font-size="10.0px" font-weight="normal" fill="#000" stroke="#000" stroke-width="0.25">447.0870</text>
<text x="411.75" y="91.60" font-size="10.0px" font-weight="normal" fill="#000" stroke="#000" stroke-width="0.25">448.5872</text>
<line x1="432.70" y1="93.10" x2="419.56" y2="93.85" stroke="#a0dca0" stroke-width="1"/>
<text x="423.65" y="110.10" font-size="10.0px" font-weight="normal" fill="#000" stroke="#000" stroke-width="0.25">449.0872</text>
<line x1="444.60" y1="111.60" x2="431.78" y2="112.32" stroke="#a0dca0" stroke-width="1"/>
<text x="435.95" y="131.30" font-size="10.0px" font-weight="normal" fill="#000" stroke="#000" stroke-width="0.25">449.5874</text>
<line x1="456.90" y1="132.80" x2="443.99" y2="133.26" stroke="#a0dca0" stroke-width="1"/>
<text x="460.25" y="146.90" font-size="10.0px" font-weight="normal" fill="#000" stroke="#000" stroke-width="0.25">450.5864</text>
<line x1="481.20" y1="148.40" x2="468.40" y2="148.45" stroke="#a0dca0" stroke-width="1"/>
<text x="235.83" y="119.10" font-size="17.3px" font-weight="bold" fill="#000">B</text>
<line x1="257.50" y1="185.50" x2="546.00" y2="185.50" stroke="#bdbdbd" stroke-width="1" />
<line x1="298.50" y1="200.00" x2="298.50" y2="282.50" stroke="#7c7c7c" stroke-width="1" />
<line x1="291.50" y1="282.50" x2="298.50" y2="282.50" stroke="#8e8e8e" stroke-width="1" />
<text x="285.75" y="285.80" font-size="10.0px" font-weight="normal" fill="#000" stroke="#000" stroke-width="0.25">0</text>
<line x1="294.50" y1="274.50" x2="298.50" y2="274.50" stroke="#8e8e8e" stroke-width="1" />
<line x1="294.50" y1="266.50" x2="298.50" y2="266.50" stroke="#8e8e8e" stroke-width="1" />
<line x1="294.50" y1="257.50" x2="298.50" y2="257.50" stroke="#8e8e8e" stroke-width="1" />
<line x1="294.50" y1="249.50" x2="298.50" y2="249.50" stroke="#8e8e8e" stroke-width="1" />
<line x1="291.50" y1="241.50" x2="298.50" y2="241.50" stroke="#8e8e8e" stroke-width="1" />
<text x="280.20" y="244.55" font-size="10.0px" font-weight="normal" fill="#000" stroke="#000" stroke-width="0.25">50</text>
<line x1="294.50" y1="233.50" x2="298.50" y2="233.50" stroke="#8e8e8e" stroke-width="1" />
<line x1="294.50" y1="224.50" x2="298.50" y2="224.50" stroke="#8e8e8e" stroke-width="1" />
<line x1="294.50" y1="216.50" x2="298.50" y2="216.50" stroke="#8e8e8e" stroke-width="1" />
<line x1="294.50" y1="208.50" x2="298.50" y2="208.50" stroke="#8e8e8e" stroke-width="1" />
<line x1="291.50" y1="200.50" x2="298.50" y2="200.50" stroke="#8e8e8e" stroke-width="1" />
<text x="274.65" y="203.30" font-size="10.0px" font-weight="normal" fill="#000" stroke="#000" stroke-width="0.25">100</text>
<line x1="298.50" y1="282.50" x2="528.50" y2="282.50" stroke="#7c7c7c" stroke-width="1" />
<line x1="307.50" y1="283.00" x2="307.50" y2="289.00" stroke="#8e8e8e" stroke-width="1" />
<text x="299.20" y="298.90" font-size="10.0px" font-weight="normal" fill="#000" stroke="#000" stroke-width="0.25">444</text>
<line x1="319.50" y1="283.00" x2="319.50" y2="287.00" stroke="#8e8e8e" stroke-width="1" />
<line x1="331.50" y1="283.00" x2="331.50" y2="287.00" stroke="#8e8e8e" stroke-width="1" />
<line x1="344.50" y1="283.00" x2="344.50" y2="287.00" stroke="#8e8e8e" stroke-width="1" />
<line x1="356.50" y1="283.00" x2="356.50" y2="289.00" stroke="#8e8e8e" stroke-width="1" />
<text x="348.13" y="298.80" font-size="10.0px" font-weight="normal" fill="#000" stroke="#000" stroke-width="0.25">446</text>
<line x1="368.50" y1="283.00" x2="368.50" y2="287.00" stroke="#8e8e8e" stroke-width="1" />
<line x1="380.50" y1="283.00" x2="380.50" y2="287.00" stroke="#8e8e8e" stroke-width="1" />
<line x1="393.50" y1="283.00" x2="393.50" y2="287.00" stroke="#8e8e8e" stroke-width="1" />
<line x1="405.50" y1="283.00" x2="405.50" y2="289.00" stroke="#8e8e8e" stroke-width="1" />
<text x="396.97" y="298.80" font-size="10.0px" font-weight="normal" fill="#000" stroke="#000" stroke-width="0.25">448</text>
<line x1="417.50" y1="283.00" x2="417.50" y2="287.00" stroke="#8e8e8e" stroke-width="1" />
<line x1="429.50" y1="283.00" x2="429.50" y2="287.00" stroke="#8e8e8e" stroke-width="1" />
<line x1="441.50" y1="283.00" x2="441.50" y2="287.00" stroke="#8e8e8e" stroke-width="1" />
<line x1="454.50" y1="283.00" x2="454.50" y2="289.00" stroke="#8e8e8e" stroke-width="1" />
<text x="445.83" y="298.80" font-size="10.0px" font-weight="normal" fill="#000" stroke="#000" stroke-width="0.25">450</text>
<line x1="466.50" y1="283.00" x2="466.50" y2="287.00" stroke="#8e8e8e" stroke-width="1" />
<line x1="478.50" y1="283.00" x2="478.50" y2="287.00" stroke="#8e8e8e" stroke-width="1" />
<line x1="490.50" y1="283.00" x2="490.50" y2="287.00" stroke="#8e8e8e" stroke-width="1" />
<line x1="502.50" y1="283.00" x2="502.50" y2="289.00" stroke="#8e8e8e" stroke-width="1" />
<text x="494.74" y="298.80" font-size="10.0px" font-weight="normal" fill="#000" stroke="#000" stroke-width="0.25">452</text>
<line x1="515.50" y1="283.00" x2="515.50" y2="287.00" stroke="#8e8e8e" stroke-width="1" />
<line x1="527.50" y1="283.00" x2="527.50" y2="287.00" stroke="#8e8e8e" stroke-width="1" />
<text x="405.35" y="311.60" font-size="10.0px" font-weight="normal" fill="#000" stroke="#000" stroke-width="0.25">m/z</text>
<text transform="translate(271.6,286.3) rotate(-90)" x="0" y="0" font-size="10.0px" stroke="#000" stroke-width="0.25">Relative Abundance</text>
<text x="312.65" y="279.70" font-size="10.0px" font-weight="normal" fill="#000" stroke="#000" stroke-width="0.25">445.5850</text>
<line x1="333.60" y1="281.20" x2="346.22" y2="280.85" stroke="#a0dca0" stroke-width="1"/>
<text x="324.55" y="256.00" font-size="10.0px" font-weight="normal" fill="#000" stroke="#000" stroke-width="0.25">446.0849</text>
<line x1="345.50" y1="257.50" x2="358.43" y2="256.51" stroke="#a0dca0" stroke-width="1"/>
<text x="336.75" y="227.50" font-size="10.0px" font-weight="normal" fill="#000" stroke="#000" stroke-width="0.25">446.5859</text>
<line x1="357.70" y1="229.00" x2="370.67" y2="229.29" stroke="#a0dca0" stroke-width="1"/>
<text x="362.45" y="197.60" font-size="10.0px" font-weight="normal" fill="#000" stroke="#000" stroke-width="0.25">447.0858</text>
<text x="411.55" y="230.30" font-size="10.0px" font-weight="normal" fill="#000" stroke="#000" stroke-width="0.25">448.5864</text>
<line x1="432.50" y1="231.80" x2="419.55" y2="231.76" stroke="#a0dca0" stroke-width="1"/>
<text x="423.85" y="244.50" font-size="10.0px" font-weight="normal" fill="#000" stroke="#000" stroke-width="0.25">449.0863</text>
<line x1="444.80" y1="246.00" x2="431.76" y2="245.79" stroke="#a0dca0" stroke-width="1"/>
<text x="436.15" y="263.60" font-size="10.0px" font-weight="normal" fill="#000" stroke="#000" stroke-width="0.25">449.5864</text>
<line x1="457.10" y1="265.10" x2="443.98" y2="265.18" stroke="#a0dca0" stroke-width="1"/>
<text x="460.15" y="277.20" font-size="10.0px" font-weight="normal" fill="#000" stroke="#000" stroke-width="0.25">450.5870</text>
<line x1="481.10" y1="278.70" x2="468.42" y2="279.61" stroke="#a0dca0" stroke-width="1"/>
<text x="238.09" y="224.75" font-size="17.3px" font-weight="bold" fill="#000">C</text>
<rect x="59" y="494" width="1" height="2" fill-opacity="0.062"/>
<rect x="60" y="494" width="1" height="2" fill-opacity="0.062"/>
<rect x="69" y="494" width="1" height="2" fill-opacity="0.062"/>
<rect x="70" y="494" width="1" height="2" fill-opacity="0.062"/>
<rect x="76" y="494" width="1" height="1" fill-opacity="0.104"/>
<rect x="76" y="495" width="1" height="1" fill-opacity="0.062"/>
<rect x="77" y="494" width="1" height="1" fill-opacity="0.104"/>
<rect x="77" y="495" width="1" height="1" fill-opacity="0.062"/>
<rect x="83" y="494" width="1" height="1" fill-opacity="0.083"/>
<rect x="83" y="495" width="1" height="1" fill-opacity="0.062"/>
<rect x="84" y="494" width="1" height="1" fill-opacity="0.083"/>
<rect x="84" y="495" width="1" height="1" fill-opacity="0.062"/>
<rect x="91" y="494" width="1" height="1" fill-opacity="0.104"/>
<rect x="91" y="495" width="1" height="1" fill-opacity="0.062"/>
<rect x="92" y="494" width="1" height="1" fill-opacity="0.104"/>
<rect x="92" y="495" width="1" height="1" fill-opacity="0.062"/>
<rect x="98" y="494" width="1" height="1" fill-opacity="0.167"/>
<rect x="98" y="495" width="1" height="1" fill-opacity="0.083"/>
<rect x="99" y="494" width="1" height="1" fill-opacity="0.167"/>
<rect x="99" y="495" width="1" height="1" fill-opacity="0.083"/>
<rect x="105" y="494" width="1" height="1" fill-opacity="0.167"/>
<rect x="105" y="495" width="1" height="1" fill-opacity="0.083"/>
<rect x="106" y="494" width="1" height="1" fill-opacity="0.167"/>
<rect x="106" y="495" width="1" height="1" fill-opacity="0.083"/>
<rect x="110" y="493" width="1" height="1" fill-opacity="0.083"/>
<rect x="110" y="494" width="1" height="1" fill-opacity="0.396"/>
<rect x="110" y="495" width="1" height="1" fill-opacity="0.208"/>
<rect x="115" y="493" width="1" height="1" fill-opacity="0.104"/>
<rect x="115" y="494" width="1" height="1" fill-opacity="0.208"/>
<rect x="115" y="495" width="1" height="1" fill-opacity="0.104"/>
<rect x="116" y="493" width="1" height="1" fill-opacity="0.104"/>
<rect x="116" y="494" width="1" height="1" fill-opacity="0.208"/>
<rect x="116" y="495" width="1" height="1" fill-opacity="0.104"/>
<rect x="119" y="492" width="1" height="1" fill-opacity="0.250"/>
<rect x="119" y="493" width="1" height="2" fill-opacity="0.417"/>
<rect x="119" y="495" width="1" height="1" fill-opacity="0.208"/>
<rect x="120" y="492" width="1" height="1" fill-opacity="0.042"/>
<rect x="120" y="493" width="1" height="2" fill-opacity="0.062"/>
<rect x="120" y="495" width="1" height="1" fill-opacity="0.021"/>
<rect x="124" y="491" width="1" height="1" fill-opacity="0.042"/>
<rect x="124" y="492" width="1" height="3" fill-opacity="0.250"/>
<rect x="124" y="495" width="1" height="1" fill-opacity="0.125"/>
<rect x="125" y="491" width="1" height="1" fill-opacity="0.167"/>
<rect x="125" y="492" width="1" height="3" fill-opacity="0.792"/>
<rect x="125" y="495" width="1" height="1" fill-opacity="0.396"/>
<rect x="126" y="491" width="1" height="1" fill-opacity="0.021"/>
<rect x="126" y="492" width="1" height="3" fill-opacity="0.083"/>
<rect x="126" y="495" width="1" height="1" fill-opacity="0.042"/>
<rect x="127" y="491" width="1" height="4" fill-opacity="0.312"/>
<rect x="127" y="495" width="1" height="1" fill-opacity="0.167"/>
<rect x="128" y="485" width="1" height="1" fill-opacity="0.479"/>
<rect x="128" y="486" width="1" height="5" fill-opacity="0.812"/>
<rect x="128" y="491" width="1" height="4" fill-opacity="0.958"/>
<rect x="128" y="495" width="1" height="1" fill-opacity="0.646"/>
<rect x="129" y="491" width="1" height="4" fill-opacity="0.312"/>
<rect x="129" y="495" width="1" height="1" fill-opacity="0.167"/>
<rect x="132" y="493" width="1" height="2" fill-opacity="0.396"/>
<rect x="132" y="495" width="1" height="1" fill-opacity="0.208"/>
<rect x="134" y="493" width="1" height="1" fill-opacity="0.104"/>
<rect x="134" y="494" width="1" height="1" fill-opacity="0.208"/>
<rect x="134" y="495" width="1" height="1" fill-opacity="0.104"/>
<rect x="135" y="493" width="1" height="1" fill-opacity="0.104"/>
<rect x="135" y="494" width="1" height="1" fill-opacity="0.208"/>
<rect x="135" y="495" width="1" height="1" fill-opacity="0.104"/>
<rect x="138" y="479" width="1" height="1" fill-opacity="0.062"/>
<rect x="138" y="480" width="1" height="8" fill-opacity="0.188"/>
<rect x="138" y="488" width="1" height="7" fill-opacity="0.417"/>
<rect x="138" y="495" width="1" height="1" fill-opacity="0.229"/>
<rect x="139" y="457" width="1" height="22" fill-opacity="0.896"/>
<rect x="139" y="479" width="1" height="1" fill-opacity="0.917"/>
<rect x="139" y="480" width="1" height="8" fill-opacity="0.938"/>
<rect x="139" y="488" width="1" height="7" fill-opacity="1.000"/>
<rect x="139" y="495" width="1" height="1" fill-opacity="0.854"/>
<rect x="140" y="488" width="1" height="3" fill-opacity="0.500"/>
<rect x="140" y="491" width="1" height="4" fill-opacity="0.896"/>
<rect x="140" y="495" width="1" height="1" fill-opacity="0.542"/>
<rect x="141" y="491" width="1" height="4" fill-opacity="0.312"/>
<rect x="141" y="495" width="1" height="1" fill-opacity="0.167"/>
<rect x="143" y="491" width="1" height="1" fill-opacity="0.271"/>
<rect x="143" y="492" width="1" height="3" fill-opacity="0.562"/>
<rect x="143" y="495" width="1" height="1" fill-opacity="0.271"/>
<rect x="145" y="493" width="1" height="2" fill-opacity="0.208"/>
<rect x="145" y="495" width="1" height="1" fill-opacity="0.104"/>
<rect x="146" y="493" width="1" height="2" fill-opacity="0.208"/>
<rect x="146" y="495" width="1" height="1" fill-opacity="0.104"/>
<rect x="148" y="492" width="1" height="1" fill-opacity="0.125"/>
<rect x="148" y="493" width="1" height="2" fill-opacity="0.250"/>
<rect x="148" y="495" width="1" height="1" fill-opacity="0.125"/>
<rect x="149" y="492" width="1" height="1" fill-opacity="0.125"/>
<rect x="149" y="493" width="1" height="2" fill-opacity="0.250"/>
<rect x="149" y="495" width="1" height="1" fill-opacity="0.125"/>
<rect x="151" y="493" width="1" height="2" fill-opacity="0.208"/>
<rect x="151" y="495" width="1" height="1" fill-opacity="0.104"/>
<rect x="152" y="493" width="1" height="2" fill-opacity="0.208"/>
<rect x="152" y="495" width="1" height="1" fill-opacity="0.104"/>
<rect x="155" y="492" width="1" height="3" fill-opacity="0.479"/>
<rect x="155" y="495" width="1" height="1" fill-opacity="0.250"/>
<rect x="157" y="493" width="1" height="2" fill-opacity="0.208"/>
<rect x="157" y="495" width="1" height="1" fill-opacity="0.104"/>
<rect x="158" y="493" width="1" height="2" fill-opacity="0.208"/>
<rect x="158" y="495" width="1" height="1" fill-opacity="0.104"/>
<rect x="162" y="459" width="1" height="1" fill-opacity="0.104"/>
<rect x="162" y="460" width="1" height="29" fill-opacity="0.500"/>
<rect x="162" y="489" width="1" height="6" fill-opacity="0.958"/>
<rect x="162" y="495" width="1" height="1" fill-opacity="0.583"/>
<rect x="163" y="461" width="1" height="28" fill-opacity="0.458"/>
<rect x="163" y="489" width="1" height="6" fill-opacity="0.938"/>
<rect x="163" y="495" width="1" height="1" fill-opacity="0.583"/>
<rect x="165" y="480" width="1" height="16" fill-opacity="0.208"/>
<rect x="166" y="39" width="1" height="22" fill-opacity="0.542"/>
<rect x="166" y="61" width="1" height="120" fill-opacity="0.562"/>
<rect x="166" y="181" width="1" height="37" fill-opacity="0.646"/>
<rect x="166" y="218" width="1" height="66" fill-opacity="0.750"/>
<rect x="166" y="284" width="1" height="118" fill-opacity="0.875"/>
<rect x="166" y="402" width="1" height="94" fill-opacity="0.958"/>
<rect x="167" y="61" width="1" height="120" fill-opacity="0.208"/>
<rect x="167" y="181" width="1" height="37" fill-opacity="0.292"/>
<rect x="167" y="218" width="1" height="66" fill-opacity="0.458"/>
<rect x="167" y="284" width="1" height="118" fill-opacity="0.771"/>
<rect x="167" y="402" width="1" height="94" fill-opacity="0.958"/>
<rect x="168" y="454" width="1" height="42" fill-opacity="0.292"/>
<rect x="170" y="488" width="1" height="1" fill-opacity="0.083"/>
<rect x="170" y="489" width="1" height="3" fill-opacity="0.208"/>
<rect x="170" y="492" width="1" height="3" fill-opacity="0.646"/>
<rect x="170" y="495" width="1" height="1" fill-opacity="0.354"/>
<rect x="171" y="488" width="1" height="1" fill-opacity="0.312"/>
<rect x="171" y="489" width="1" height="3" fill-opacity="0.792"/>
<rect x="171" y="492" width="1" height="3" fill-opacity="0.958"/>
<rect x="171" y="495" width="1" height="1" fill-opacity="0.646"/>
<rect x="172" y="492" width="1" height="3" fill-opacity="0.250"/>
<rect x="172" y="495" width="1" height="1" fill-opacity="0.125"/>
<rect x="173" y="492" width="1" height="1" fill-opacity="0.125"/>
<rect x="173" y="493" width="1" height="2" fill-opacity="0.250"/>
<rect x="173" y="495" width="1" height="1" fill-opacity="0.125"/>
<rect x="174" y="492" width="1" height="1" fill-opacity="0.125"/>
<rect x="174" y="493" width="1" height="2" fill-opacity="0.250"/>
<rect x="174" y="495" width="1" height="1" fill-opacity="0.125"/>
<rect x="176" y="493" width="1" height="2" fill-opacity="0.250"/>
<rect x="176" y="495" width="1" height="1" fill-opacity="0.125"/>
<rect x="177" y="493" width="1" height="2" fill-opacity="0.250"/>
<rect x="177" y="495" width="1" height="1" fill-opacity="0.125"/>
<rect x="179" y="493" width="1" height="1" fill-opacity="0.333"/>
<rect x="179" y="494" width="1" height="1" fill-opacity="0.500"/>
<rect x="179" y="495" width="1" height="1" fill-opacity="0.250"/>
<rect x="180" y="493" width="1" height="1" fill-opacity="0.146"/>
<rect x="180" y="494" width="1" height="1" fill-opacity="0.208"/>
<rect x="180" y="495" width="1" height="1" fill-opacity="0.104"/>
<rect x="183" y="491" width="1" height="1" fill-opacity="0.167"/>
<rect x="183" y="492" width="1" height="3" fill-opacity="0.562"/>
<rect x="183" y="495" width="1" height="1" fill-opacity="0.271"/>
<rect x="184" y="491" width="1" height="1" fill-opacity="0.125"/>
<rect x="184" y="492" width="1" height="3" fill-opacity="0.396"/>
<rect x="184" y="495" width="1" height="1" fill-opacity="0.208"/>
<rect x="187" y="493" width="1" height="1" fill-opacity="0.500"/>
<rect x="187" y="494" width="1" height="1" fill-opacity="0.708"/>
<rect x="187" y="495" width="1" height="1" fill-opacity="0.354"/>
<rect x="190" y="493" width="1" height="1" fill-opacity="0.042"/>
<rect x="190" y="494" width="1" height="1" fill-opacity="0.208"/>
<rect x="190" y="495" width="1" height="1" fill-opacity="0.104"/>
<rect x="191" y="493" width="1" height="1" fill-opacity="0.042"/>
<rect x="191" y="494" width="1" height="1" fill-opacity="0.208"/>
<rect x="191" y="495" width="1" height="1" fill-opacity="0.104"/>
<rect x="195" y="493" width="1" height="1" fill-opacity="0.042"/>
<rect x="195" y="494" width="1" height="1" fill-opacity="0.208"/>
<rect x="195" y="495" width="1" height="1" fill-opacity="0.104"/>
<rect x="196" y="493" width="1" height="1" fill-opacity="0.042"/>
<rect x="196" y="494" width="1" height="1" fill-opacity="0.208"/>
<rect x="196" y="495" width="1" height="1" fill-opacity="0.104"/>
<rect x="199" y="494" width="1" height="1" fill-opacity="0.208"/>
<rect x="199" y="495" width="1" height="1" fill-opacity="0.104"/>
<rect x="200" y="494" width="1" height="1" fill-opacity="0.208"/>
<rect x="200" y="495" width="1" height="1" fill-opacity="0.104"/>
<rect x="204" y="494" width="1" height="1" fill-opacity="0.167"/>
<rect x="204" y="495" width="1" height="1" fill-opacity="0.083"/>
<rect x="205" y="494" width="1" height="1" fill-opacity="0.167"/>
<rect x="205" y="495" width="1" height="1" fill-opacity="0.083"/>
<rect x="211" y="494" width="1" height="1" fill-opacity="0.125"/>
<rect x="211" y="495" width="1" height="1" fill-opacity="0.083"/>
<rect x="212" y="494" width="1" height="1" fill-opacity="0.125"/>
<rect x="212" y="495" width="1" height="1" fill-opacity="0.083"/>
<rect x="219" y="494" width="1" height="1" fill-opacity="0.083"/>
<rect x="219" y="495" width="1" height="1" fill-opacity="0.062"/>
<rect x="220" y="494" width="1" height="1" fill-opacity="0.083"/>
<rect x="220" y="495" width="1" height="1" fill-opacity="0.062"/>
<rect x="234" y="491" width="1" height="4" fill-opacity="0.042"/>
<rect x="234" y="495" width="1" height="1" fill-opacity="0.021"/>
<rect x="235" y="491" width="1" height="1" fill-opacity="0.604"/>
<rect x="235" y="492" width="1" height="3" fill-opacity="0.688"/>
<rect x="235" y="495" width="1" height="1" fill-opacity="0.333"/>
<rect x="240" y="492" width="1" height="1" fill-opacity="0.125"/>
<rect x="240" y="493" width="1" height="2" fill-opacity="0.250"/>
<rect x="240" y="495" width="1" height="1" fill-opacity="0.125"/>
<rect x="241" y="492" width="1" height="1" fill-opacity="0.125"/>
<rect x="241" y="493" width="1" height="2" fill-opacity="0.250"/>
<rect x="241" y="495" width="1" height="1" fill-opacity="0.125"/>
<rect x="252" y="493" width="1" height="2" fill-opacity="0.208"/>
<rect x="252" y="495" width="1" height="1" fill-opacity="0.104"/>
<rect x="253" y="493" width="1" height="2" fill-opacity="0.208"/>
<rect x="253" y="495" width="1" height="1" fill-opacity="0.104"/>
<rect x="261" y="494" width="1" height="1" fill-opacity="0.125"/>
<rect x="261" y="495" width="1" height="1" fill-opacity="0.062"/>
<rect x="262" y="494" width="1" height="1" fill-opacity="0.125"/>
<rect x="262" y="495" width="1" height="1" fill-opacity="0.062"/>
<rect x="279" y="494" width="1" height="1" fill-opacity="0.104"/>
<rect x="279" y="495" width="1" height="1" fill-opacity="0.062"/>
<rect x="280" y="494" width="1" height="1" fill-opacity="0.104"/>
<rect x="280" y="495" width="1" height="1" fill-opacity="0.062"/>
<rect x="299" y="494" width="1" height="1" fill-opacity="0.104"/>
<rect x="299" y="495" width="1" height="1" fill-opacity="0.062"/>
<rect x="300" y="494" width="1" height="1" fill-opacity="0.104"/>
<rect x="300" y="495" width="1" height="1" fill-opacity="0.062"/>
<rect x="319" y="494" width="1" height="1" fill-opacity="0.104"/>
<rect x="319" y="495" width="1" height="1" fill-opacity="0.062"/>
<rect x="320" y="494" width="1" height="1" fill-opacity="0.104"/>
<rect x="320" y="495" width="1" height="1" fill-opacity="0.062"/>
<rect x="333" y="149" width="1" height="1" fill-opacity="0.354"/>
<rect x="333" y="150" width="1" height="1" fill-opacity="0.188"/>
<rect x="333" y="281" width="1" height="1" fill-opacity="0.354"/>
<rect x="333" y="282" width="1" height="1" fill-opacity="0.188"/>
<rect x="334" y="148" width="1" height="1" fill-opacity="0.500"/>
<rect x="334" y="149" width="1" height="1" fill-opacity="0.958"/>
<rect x="334" y="150" width="1" height="1" fill-opacity="0.583"/>
<rect x="334" y="281" width="1" height="1" fill-opacity="0.917"/>
<rect x="334" y="282" width="1" height="1" fill-opacity="0.583"/>
<rect x="335" y="149" width="1" height="1" fill-opacity="0.354"/>
<rect x="335" y="150" width="1" height="1" fill-opacity="0.188"/>
<rect x="335" y="281" width="1" height="1" fill-opacity="0.354"/>
<rect x="335" y="282" width="1" height="1" fill-opacity="0.188"/>
<rect x="337" y="494" width="1" height="1" fill-opacity="0.125"/>
<rect x="337" y="495" width="1" height="1" fill-opacity="0.062"/>
<rect x="338" y="494" width="1" height="1" fill-opacity="0.125"/>
<rect x="338" y="495" width="1" height="1" fill-opacity="0.062"/>
<rect x="345" y="149" width="1" height="1" fill-opacity="0.354"/>
<rect x="345" y="150" width="1" height="1" fill-opacity="0.188"/>
<rect x="345" y="281" width="1" height="1" fill-opacity="0.354"/>
<rect x="345" y="282" width="1" height="1" fill-opacity="0.188"/>
<rect x="346" y="148" width="1" height="1" fill-opacity="0.062"/>
<rect x="346" y="149" width="1" height="1" fill-opacity="0.958"/>
<rect x="346" y="150" width="1" height="1" fill-opacity="0.583"/>
<rect x="346" y="280" width="1" height="1" fill-opacity="0.083"/>
<rect x="346" y="281" width="1" height="1" fill-opacity="0.958"/>
<rect x="346" y="282" width="1" height="1" fill-opacity="0.583"/>
<rect x="347" y="149" width="1" height="1" fill-opacity="0.354"/>
<rect x="347" y="150" width="1" height="1" fill-opacity="0.188"/>
<rect x="347" y="281" width="1" height="1" fill-opacity="0.354"/>
<rect x="347" y="282" width="1" height="1" fill-opacity="0.188"/>
<rect x="348" y="487" width="1" height="1" fill-opacity="0.542"/>
<rect x="348" y="488" width="1" height="7" fill-opacity="0.896"/>
<rect x="348" y="495" width="1" height="1" fill-opacity="0.458"/>
<rect x="349" y="474" width="1" height="1" fill-opacity="0.458"/>
<rect x="349" y="475" width="1" height="9" fill-opacity="0.896"/>
<rect x="349" y="484" width="1" height="5" fill-opacity="0.958"/>
<rect x="349" y="489" width="1" height="6" fill-opacity="1.000"/>
<rect x="349" y="495" width="1" height="1" fill-opacity="0.833"/>
<rect x="350" y="484" width="1" height="11" fill-opacity="1.000"/>
<rect x="350" y="495" width="1" height="1" fill-opacity="0.812"/>
<rect x="351" y="484" width="1" height="5" fill-opacity="0.104"/>
<rect x="351" y="489" width="1" height="6" fill-opacity="1.000"/>
<rect x="351" y="495" width="1" height="1" fill-opacity="0.729"/>
<rect x="352" y="492" width="1" height="3" fill-opacity="0.458"/>
<rect x="352" y="495" width="1" height="1" fill-opacity="0.229"/>
<rect x="354" y="493" width="1" height="1" fill-opacity="0.104"/>
<rect x="354" y="494" width="1" height="1" fill-opacity="0.208"/>
<rect x="354" y="495" width="1" height="1" fill-opacity="0.104"/>
<rect x="355" y="493" width="1" height="1" fill-opacity="0.104"/>
<rect x="355" y="494" width="1" height="1" fill-opacity="0.208"/>
<rect x="355" y="495" width="1" height="1" fill-opacity="0.104"/>
<rect x="356" y="492" width="1" height="1" fill-opacity="0.271"/>
<rect x="356" y="493" width="1" height="2" fill-opacity="0.396"/>
<rect x="356" y="495" width="1" height="1" fill-opacity="0.208"/>
<rect x="357" y="149" width="1" height="1" fill-opacity="0.354"/>
<rect x="357" y="150" width="1" height="1" fill-opacity="0.188"/>
<rect x="357" y="281" width="1" height="1" fill-opacity="0.354"/>
<rect x="357" y="282" width="1" height="1" fill-opacity="0.188"/>
<rect x="357" y="492" width="1" height="1" fill-opacity="0.562"/>
<rect x="357" y="493" width="1" height="2" fill-opacity="0.792"/>
<rect x="357" y="495" width="1" height="1" fill-opacity="0.396"/>
<rect x="358" y="127" width="1" height="1" fill-opacity="0.042"/>
<rect x="358" y="128" width="1" height="21" fill-opacity="0.500"/>
<rect x="358" y="149" width="1" height="1" fill-opacity="0.958"/>
<rect x="358" y="150" width="1" height="1" fill-opacity="0.583"/>
<rect x="358" y="256" width="1" height="1" fill-opacity="0.250"/>
<rect x="358" y="257" width="1" height="24" fill-opacity="0.500"/>
<rect x="358" y="281" width="1" height="1" fill-opacity="0.958"/>
<rect x="358" y="282" width="1" height="1" fill-opacity="0.583"/>
<rect x="358" y="492" width="1" height="1" fill-opacity="0.062"/>
<rect x="358" y="493" width="1" height="2" fill-opacity="0.083"/>
<rect x="358" y="495" width="1" height="1" fill-opacity="0.042"/>
<rect x="359" y="149" width="1" height="1" fill-opacity="0.354"/>
<rect x="359" y="150" width="1" height="1" fill-opacity="0.188"/>
<rect x="359" y="281" width="1" height="1" fill-opacity="0.354"/>
<rect x="359" y="282" width="1" height="1" fill-opacity="0.188"/>
<rect x="363" y="481" width="1" height="1" fill-opacity="0.021"/>
<rect x="363" y="482" width="1" height="4" fill-opacity="0.146"/>
<rect x="363" y="486" width="1" height="9" fill-opacity="0.312"/>
<rect x="363" y="495" width="1" height="1" fill-opacity="0.167"/>
<rect x="364" y="481" width="1" height="1" fill-opacity="0.146"/>
<rect x="364" y="482" width="1" height="4" fill-opacity="0.750"/>
<rect x="364" y="486" width="1" height="9" fill-opacity="1.000"/>
<rect x="364" y="495" width="1" height="1" fill-opacity="0.833"/>
<rect x="365" y="486" width="1" height="4" fill-opacity="0.792"/>
<rect x="365" y="490" width="1" height="5" fill-opacity="1.000"/>
<rect x="365" y="495" width="1" height="1" fill-opacity="0.750"/>
<rect x="366" y="490" width="1" height="5" fill-opacity="1.000"/>
<rect x="366" y="495" width="1" height="1" fill-opacity="0.729"/>
<rect x="367" y="492" width="1" height="1" fill-opacity="0.229"/>
<rect x="367" y="493" width="1" height="2" fill-opacity="0.458"/>
<rect x="367" y="495" width="1" height="1" fill-opacity="0.229"/>
<rect x="369" y="149" width="1" height="1" fill-opacity="0.354"/>
<rect x="369" y="150" width="1" height="1" fill-opacity="0.188"/>
<rect x="369" y="281" width="1" height="1" fill-opacity="0.354"/>
<rect x="369" y="282" width="1" height="1" fill-opacity="0.188"/>
<rect x="370" y="99" width="1" height="1" fill-opacity="0.208"/>
<rect x="370" y="100" width="1" height="49" fill-opacity="0.500"/>
<rect x="370" y="149" width="1" height="1" fill-opacity="0.958"/>
<rect x="370" y="150" width="1" height="1" fill-opacity="0.583"/>
<rect x="370" y="229" width="1" height="1" fill-opacity="0.354"/>
<rect x="370" y="230" width="1" height="51" fill-opacity="0.500"/>
<rect x="370" y="281" width="1" height="1" fill-opacity="0.958"/>
<rect x="370" y="282" width="1" height="1" fill-opacity="0.583"/>
<rect x="371" y="149" width="1" height="1" fill-opacity="0.354"/>
<rect x="371" y="150" width="1" height="1" fill-opacity="0.188"/>
<rect x="371" y="281" width="1" height="1" fill-opacity="0.354"/>
<rect x="371" y="282" width="1" height="1" fill-opacity="0.188"/>
<rect x="371" y="493" width="1" height="1" fill-opacity="0.083"/>
<rect x="371" y="494" width="1" height="1" fill-opacity="0.167"/>
<rect x="371" y="495" width="1" height="1" fill-opacity="0.083"/>
<rect x="372" y="493" width="1" height="1" fill-opacity="0.083"/>
<rect x="372" y="494" width="1" height="1" fill-opacity="0.167"/>
<rect x="372" y="495" width="1" height="1" fill-opacity="0.083"/>
<rect x="380" y="488" width="1" height="1" fill-opacity="0.583"/>
<rect x="380" y="489" width="1" height="3" fill-opacity="0.729"/>
<rect x="380" y="492" width="1" height="3" fill-opacity="0.938"/>
<rect x="380" y="495" width="1" height="1" fill-opacity="0.625"/>
<rect x="381" y="149" width="1" height="1" fill-opacity="0.354"/>
<rect x="381" y="150" width="1" height="1" fill-opacity="0.188"/>
<rect x="381" y="281" width="1" height="1" fill-opacity="0.354"/>
<rect x="381" y="282" width="1" height="1" fill-opacity="0.188"/>
<rect x="381" y="492" width="1" height="3" fill-opacity="0.479"/>
<rect x="381" y="495" width="1" height="1" fill-opacity="0.250"/>
<rect x="382" y="68" width="1" height="1" fill-opacity="0.229"/>
<rect x="382" y="69" width="1" height="80" fill-opacity="0.375"/>
<rect x="382" y="149" width="1" height="1" fill-opacity="0.938"/>
<rect x="382" y="150" width="1" height="1" fill-opacity="0.562"/>
<rect x="382" y="200" width="1" height="81" fill-opacity="0.500"/>
<rect x="382" y="281" width="1" height="1" fill-opacity="0.958"/>
<rect x="382" y="282" width="1" height="1" fill-opacity="0.583"/>
<rect x="383" y="149" width="1" height="1" fill-opacity="0.354"/>
<rect x="383" y="150" width="1" height="1" fill-opacity="0.188"/>
<rect x="383" y="281" width="1" height="1" fill-opacity="0.354"/>
<rect x="383" y="282" width="1" height="1" fill-opacity="0.188"/>
<rect x="386" y="494" width="1" height="1" fill-opacity="0.167"/>
<rect x="386" y="495" width="1" height="1" fill-opacity="0.083"/>
<rect x="387" y="494" width="1" height="1" fill-opacity="0.167"/>
<rect x="387" y="495" width="1" height="1" fill-opacity="0.083"/>
<rect x="394" y="149" width="1" height="1" fill-opacity="0.354"/>
<rect x="394" y="150" width="1" height="1" fill-opacity="0.188"/>
<rect x="394" y="281" width="1" height="1" fill-opacity="0.354"/>
<rect x="394" y="282" width="1" height="1" fill-opacity="0.188"/>
<rect x="395" y="68" width="1" height="1" fill-opacity="0.312"/>
<rect x="395" y="69" width="1" height="80" fill-opacity="0.500"/>
<rect x="395" y="149" width="1" height="1" fill-opacity="0.958"/>
<rect x="395" y="150" width="1" height="1" fill-opacity="0.583"/>
<rect x="395" y="202" width="1" height="1" fill-opacity="0.271"/>
<rect x="395" y="203" width="1" height="78" fill-opacity="0.500"/>
<rect x="395" y="281" width="1" height="1" fill-opacity="0.958"/>
<rect x="395" y="282" width="1" height="1" fill-opacity="0.583"/>
<rect x="395" y="492" width="1" height="1" fill-opacity="0.021"/>
<rect x="395" y="493" width="1" height="2" fill-opacity="0.042"/>
<rect x="395" y="495" width="1" height="1" fill-opacity="0.021"/>
<rect x="396" y="149" width="1" height="1" fill-opacity="0.354"/>
<rect x="396" y="150" width="1" height="1" fill-opacity="0.188"/>
<rect x="396" y="281" width="1" height="1" fill-opacity="0.354"/>
<rect x="396" y="282" width="1" height="1" fill-opacity="0.188"/>
<rect x="396" y="492" width="1" height="1" fill-opacity="0.292"/>
<rect x="396" y="493" width="1" height="2" fill-opacity="0.604"/>
<rect x="396" y="495" width="1" height="1" fill-opacity="0.292"/>
<rect x="404" y="494" width="1" height="1" fill-opacity="0.167"/>
<rect x="404" y="495" width="1" height="1" fill-opacity="0.083"/>
<rect x="405" y="494" width="1" height="1" fill-opacity="0.167"/>
<rect x="405" y="495" width="1" height="1" fill-opacity="0.083"/>
<rect x="406" y="149" width="1" height="1" fill-opacity="0.354"/>
<rect x="406" y="150" width="1" height="1" fill-opacity="0.188"/>
<rect x="406" y="281" width="1" height="1" fill-opacity="0.354"/>
<rect x="406" y="282" width="1" height="1" fill-opacity="0.188"/>
<rect x="407" y="71" width="1" height="1" fill-opacity="0.083"/>
<rect x="407" y="72" width="1" height="77" fill-opacity="0.500"/>
<rect x="407" y="149" width="1" height="1" fill-opacity="0.958"/>
<rect x="407" y="150" width="1" height="1" fill-opacity="0.583"/>
<rect x="407" y="206" width="1" height="1" fill-opacity="0.417"/>
<rect x="407" y="207" width="1" height="74" fill-opacity="0.500"/>
<rect x="407" y="281" width="1" height="1" fill-opacity="0.958"/>
<rect x="407" y="282" width="1" height="1" fill-opacity="0.583"/>
<rect x="408" y="149" width="1" height="1" fill-opacity="0.354"/>
<rect x="408" y="150" width="1" height="1" fill-opacity="0.188"/>
<rect x="408" y="281" width="1" height="1" fill-opacity="0.354"/>
<rect x="408" y="282" width="1" height="1" fill-opacity="0.188"/>
<rect x="413" y="494" width="1" height="1" fill-opacity="0.125"/>
<rect x="413" y="495" width="1" height="1" fill-opacity="0.062"/>
<rect x="414" y="494" width="1" height="1" fill-opacity="0.125"/>
<rect x="414" y="495" width="1" height="1" fill-opacity="0.062"/>
<rect x="418" y="149" width="1" height="1" fill-opacity="0.354"/>
<rect x="418" y="150" width="1" height="1" fill-opacity="0.188"/>
<rect x="418" y="281" width="1" height="1" fill-opacity="0.354"/>
<rect x="418" y="282" width="1" height="1" fill-opacity="0.188"/>
<rect x="419" y="93" width="1" height="1" fill-opacity="0.083"/>
<rect x="419" y="94" width="1" height="55" fill-opacity="0.500"/>
<rect x="419" y="149" width="1" height="1" fill-opacity="0.958"/>
<rect x="419" y="150" width="1" height="1" fill-opacity="0.583"/>
<rect x="419" y="231" width="1" height="1" fill-opacity="0.125"/>
<rect x="419" y="232" width="1" height="49" fill-opacity="0.500"/>
<rect x="419" y="281" width="1" height="1" fill-opacity="0.958"/>
<rect x="419" y="282" width="1" height="1" fill-opacity="0.583"/>
<rect x="420" y="149" width="1" height="1" fill-opacity="0.354"/>
<rect x="420" y="150" width="1" height="1" fill-opacity="0.188"/>
<rect x="420" y="281" width="1" height="1" fill-opacity="0.354"/>
<rect x="420" y="282" width="1" height="1" fill-opacity="0.188"/>
<rect x="428" y="494" width="1" height="2" fill-opacity="0.208"/>
<rect x="430" y="149" width="1" height="1" fill-opacity="0.354"/>
<rect x="430" y="150" width="1" height="1" fill-opacity="0.188"/>
<rect x="430" y="281" width="1" height="1" fill-opacity="0.354"/>
<rect x="430" y="282" width="1" height="1" fill-opacity="0.188"/>
<rect x="431" y="112" width="1" height="1" fill-opacity="0.354"/>
<rect x="431" y="113" width="1" height="36" fill-opacity="0.500"/>
<rect x="431" y="149" width="1" height="1" fill-opacity="0.958"/>
<rect x="431" y="150" width="1" height="1" fill-opacity="0.583"/>
<rect x="431" y="245" width="1" height="1" fill-opacity="0.104"/>
<rect x="431" y="246" width="1" height="35" fill-opacity="0.500"/>
<rect x="431" y="281" width="1" height="1" fill-opacity="0.958"/>
<rect x="431" y="282" width="1" height="1" fill-opacity="0.583"/>
<rect x="432" y="149" width="1" height="1" fill-opacity="0.354"/>
<rect x="432" y="150" width="1" height="1" fill-opacity="0.188"/>
<rect x="432" y="281" width="1" height="1" fill-opacity="0.354"/>
<rect x="432" y="282" width="1" height="1" fill-opacity="0.188"/>
<rect x="439" y="494" width="1" height="2" fill-opacity="0.062"/>
<rect x="440" y="494" width="1" height="2" fill-opacity="0.062"/>
<rect x="443" y="149" width="1" height="1" fill-opacity="0.354"/>
<rect x="443" y="150" width="1" height="1" fill-opacity="0.188"/>
<rect x="443" y="281" width="1" height="1" fill-opacity="0.354"/>
<rect x="443" y="282" width="1" height="1" fill-opacity="0.188"/>
<rect x="444" y="133" width="1" height="1" fill-opacity="0.375"/>
<rect x="444" y="134" width="1" height="15" fill-opacity="0.500"/>
<rect x="444" y="149" width="1" height="1" fill-opacity="0.958"/>
<rect x="444" y="150" width="1" height="1" fill-opacity="0.583"/>
<rect x="444" y="265" width="1" height="1" fill-opacity="0.417"/>
<rect x="444" y="266" width="1" height="15" fill-opacity="0.500"/>
<rect x="444" y="281" width="1" height="1" fill-opacity="0.958"/>
<rect x="444" y="282" width="1" height="1" fill-opacity="0.583"/>
<rect x="445" y="149" width="1" height="1" fill-opacity="0.354"/>
<rect x="445" y="150" width="1" height="1" fill-opacity="0.188"/>
<rect x="445" y="281" width="1" height="1" fill-opacity="0.354"/>
<rect x="445" y="282" width="1" height="1" fill-opacity="0.188"/>
<rect x="455" y="149" width="1" height="1" fill-opacity="0.354"/>
<rect x="455" y="150" width="1" height="1" fill-opacity="0.188"/>
<rect x="455" y="281" width="1" height="1" fill-opacity="0.354"/>
<rect x="455" y="282" width="1" height="1" fill-opacity="0.188"/>
<rect x="456" y="142" width="1" height="1" fill-opacity="0.146"/>
<rect x="456" y="143" width="1" height="6" fill-opacity="0.500"/>
<rect x="456" y="149" width="1" height="1" fill-opacity="0.958"/>
<rect x="456" y="150" width="1" height="1" fill-opacity="0.583"/>
<rect x="456" y="271" width="1" height="1" fill-opacity="0.125"/>
<rect x="456" y="272" width="1" height="9" fill-opacity="0.500"/>
<rect x="456" y="281" width="1" height="1" fill-opacity="0.958"/>
<rect x="456" y="282" width="1" height="1" fill-opacity="0.583"/>
<rect x="457" y="149" width="1" height="1" fill-opacity="0.354"/>
<rect x="457" y="150" width="1" height="1" fill-opacity="0.188"/>
<rect x="457" y="281" width="1" height="1" fill-opacity="0.354"/>
<rect x="457" y="282" width="1" height="1" fill-opacity="0.188"/>
<rect x="467" y="149" width="1" height="1" fill-opacity="0.354"/>
<rect x="467" y="150" width="1" height="1" fill-opacity="0.188"/>
<rect x="467" y="281" width="1" height="1" fill-opacity="0.354"/>
<rect x="467" y="282" width="1" height="1" fill-opacity="0.188"/>
<rect x="468" y="148" width="1" height="1" fill-opacity="0.292"/>
<rect x="468" y="149" width="1" height="1" fill-opacity="0.958"/>
<rect x="468" y="150" width="1" height="1" fill-opacity="0.583"/>
<rect x="468" y="279" width="1" height="1" fill-opacity="0.188"/>
<rect x="468" y="280" width="1" height="1" fill-opacity="0.500"/>
<rect x="468" y="281" width="1" height="1" fill-opacity="0.958"/>
<rect x="468" y="282" width="1" height="1" fill-opacity="0.583"/>
<rect x="469" y="149" width="1" height="1" fill-opacity="0.354"/>
<rect x="469" y="150" width="1" height="1" fill-opacity="0.188"/>
<rect x="469" y="281" width="1" height="1" fill-opacity="0.354"/>
<rect x="469" y="282" width="1" height="1" fill-opacity="0.188"/>
</svg>
</body></html>
